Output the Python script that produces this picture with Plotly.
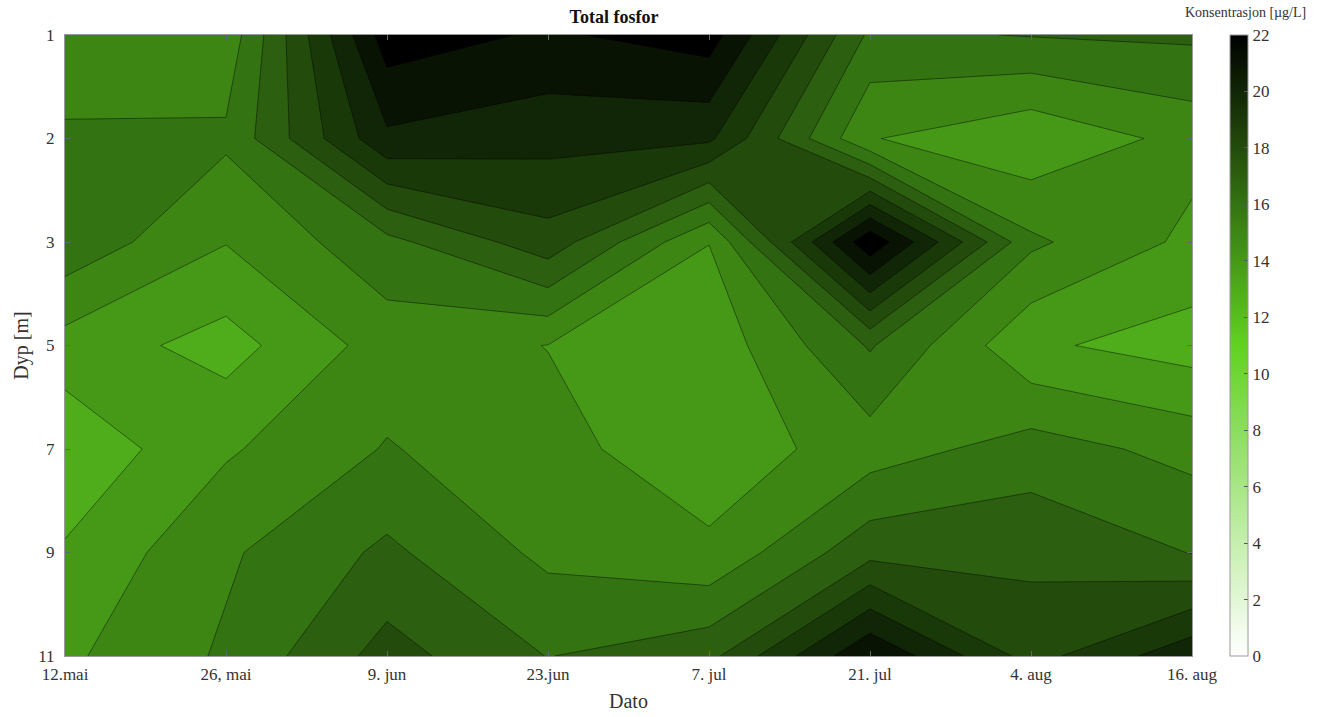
import plotly.graph_objects as go

dates = ["12.mai", "26, mai", "9. jun", "23.jun", "7. jul", "21. jul", "4. aug", "16. aug"]
depths = ["1", "2", "3", "5", "7", "9", "11"]

# Total phosphorus [µg/L], rows = depth, columns = date
d1 = [15.3, 15.3, 22.55, 21.85, 22.5, 16.8, 17.05, 17.18]
d2 = [16.16, 16.18, 20.8, 20.35, 20.2, 15.06, 14.2, 15.34]
d3 = [16.7, 15.04, 16.7, 18.6, 15.02, 22.8, 16.2, 14.76]
d5 = [14.6, 13.59, 15.45, 14.98, 14.34, 17.1, 14.17, 13.55]
d7 = [13.2, 14.87, 16.07, 15.3, 14.4, 15.5, 16.45, 15.67]
d9 = [14.12, 15.85, 17.2, 15.76, 15.2, 17.67, 17.76, 16.97]
d11 = [14.81, 16.15, 18.4, 16.97, 17.7, 21.95, 18.6, 20.7]
z = [d1, d2, d3, d5, d7, d9, d11]

cb_ticks = [0, 2, 4, 6, 8, 10, 12, 14, 16, 18, 20, 22]
CMAX = 22     # colour axis maximum
LMAX = 23     # highest contour level (values above 22 are drawn black)

G = (96, 210, 32)


def cmap(v):
    v = max(0.0, min(22.0, v))
    if v <= 11:
        f = v / 11.0
        c = [255 + (g - 255) * f for g in G]
    else:
        f = (22 - v) / 11.0
        c = [g * f for g in G]
    return "rgb(%d,%d,%d)" % tuple(int(round(max(0, min(255, x)))) for x in c)


# continuous scale for the colorbar
cont_scale = [[i / 44.0, cmap(i / 2.0)] for i in range(45)]
# fill scale: each band [L, L+1] takes the colour of its lower level L
fill_scale = [[0.0, cmap(0)]]
for L in range(LMAX):
    fill_scale.append([(L + 0.5) / LMAX, cmap(L)])
fill_scale.append([1.0, cmap(LMAX)])

x_idx = list(range(len(dates)))
y_idx = list(range(len(depths)))

fig = go.Figure()
fig.add_trace(go.Contour(
    z=z, x=x_idx, y=y_idx,
    zmin=0, zmax=LMAX, autocontour=False,
    contours=dict(start=0, end=LMAX, size=1, coloring="fill", showlines=True),
    colorscale=fill_scale, showscale=False,
    line=dict(color="rgba(0,0,0,0.55)", width=0.8, smoothing=0),
    hoverinfo="skip",
))
fig.add_trace(go.Scatter(
    x=[0], y=[0], mode="markers",
    marker=dict(size=0.1, opacity=0, color=[0], cmin=0, cmax=CMAX,
                colorscale=cont_scale, showscale=True,
                colorbar=dict(x=1.0337, xanchor="left", xpad=0, y=0.5, yanchor="middle",
                              len=1.0, lenmode="fraction", ypad=0, thickness=18,
                              outlinewidth=1, outlinecolor="#9a9a9a",
                              tickvals=cb_ticks, ticks="inside", ticklen=4,
                              tickcolor="#555", tickfont=dict(family="Liberation Serif", size=17, color="#333"))),
    hoverinfo="skip", showlegend=False,
))

fig.update_layout(
    width=1336, height=717,
    margin=dict(l=65, r=144, t=35, b=61),
    paper_bgcolor="white", plot_bgcolor="white",
    font=dict(family="Liberation Serif", size=17, color="#333"),
    showlegend=False,
    title=dict(text="<b>Total fosfor</b>", x=614 / 1336, xanchor="center", y=1 - 17 / 717, yanchor="middle",
               font=dict(family="Liberation Serif", size=18, color="#111")),
    annotations=[dict(text="Konsentrasjon [µg/L]", xref="paper", yref="paper",
                      x=(1245 - 65) / 1127.0, y=1 + (35 - 12) / 621.0, xanchor="center", yanchor="middle",
                      showarrow=False, font=dict(family="Liberation Serif", size=14, color="#333"))],
)
fig.update_xaxes(range=[0, 7], tickvals=x_idx, ticktext=dates, ticks="inside", ticklen=5,
                 tickcolor="#666", showline=True, linecolor="#999", mirror="ticks", showgrid=False,
                 zeroline=False, automargin=False, ticklabelstandoff=3,
                 title=dict(text="Dato", standoff=10),
                 tickfont=dict(family="Liberation Serif", size=17, color="#333"))
fig.update_yaxes(range=[6, 0], tickvals=y_idx, ticktext=depths, ticks="inside", ticklen=5,
                 tickcolor="#666", showline=True, linecolor="#999", mirror="ticks", showgrid=False,
                 zeroline=False, automargin=False, ticklabelstandoff=6,
                 title=dict(text="Dyp [m]", standoff=4),
                 tickfont=dict(family="Liberation Serif", size=17, color="#333"))

fig.write_html("out.html")
